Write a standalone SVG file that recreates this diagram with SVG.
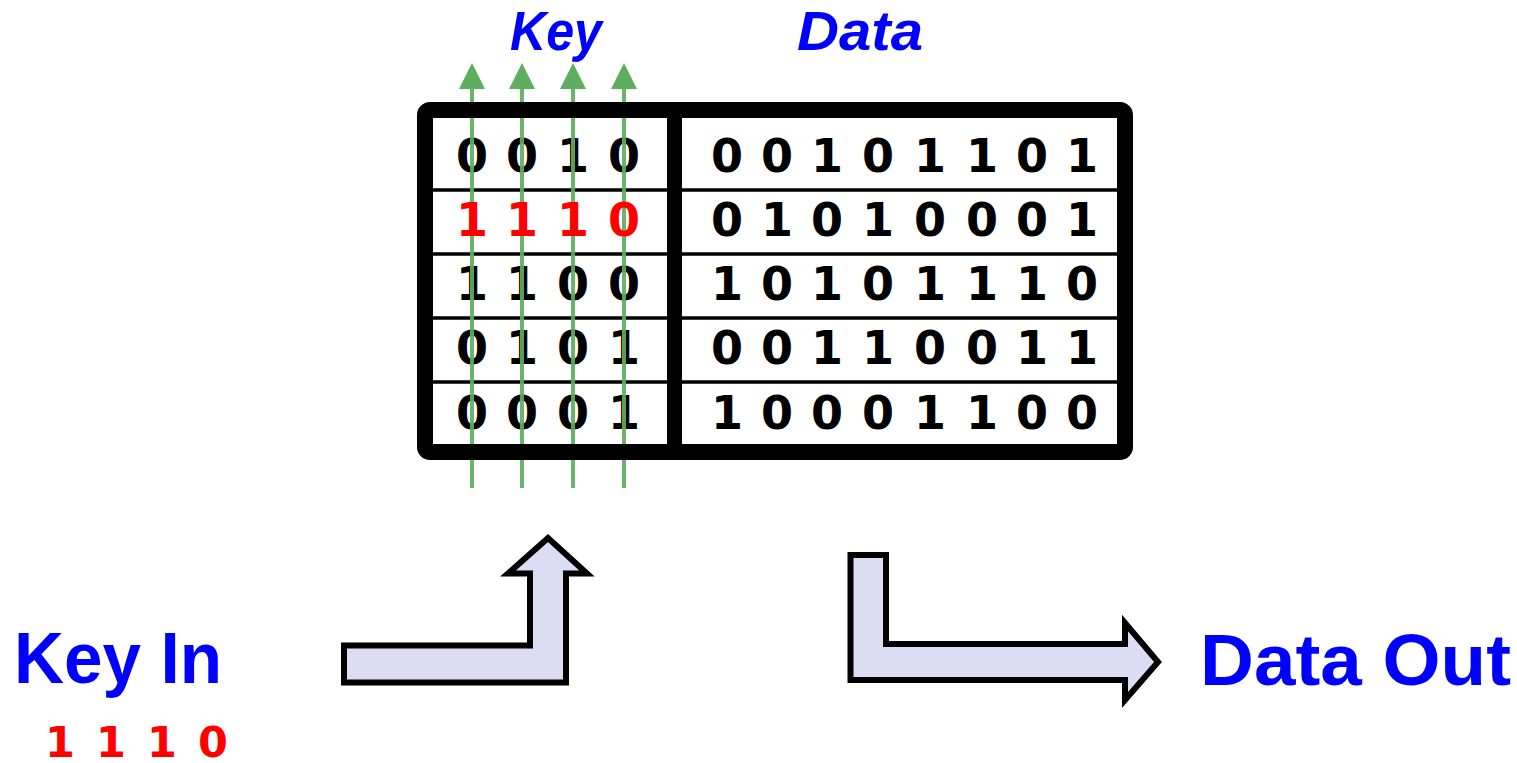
<svg xmlns="http://www.w3.org/2000/svg" width="1517" height="763" viewBox="0 0 1517 763">
<defs>
<style>
.d{font-family:"DejaVu Sans",sans-serif;font-weight:bold;font-size:46px;text-anchor:middle;fill:#000}
.r{fill:#ff0000}
.lbl{font-family:"Liberation Sans",Arial,sans-serif;font-weight:bold;fill:#0000ff}
.it{font-style:italic;font-size:56px}
.big{font-size:73px}
.g{stroke:#5fae5f;stroke-width:4;fill:none;opacity:0.92}
.gh{fill:#5fae5f}
.arw{fill:#dcdcf4;stroke:#000;stroke-width:6;stroke-linejoin:miter}
.row{stroke:#000;stroke-width:3.5}
</style>
</defs>
<rect width="1517" height="763" fill="#fff"/>

<g id="labels">
<text class="lbl it" x="510" y="50" textLength="92" lengthAdjust="spacingAndGlyphs">Key</text>
<text class="lbl it" x="797" y="50" textLength="126" lengthAdjust="spacingAndGlyphs">Data</text>
</g>

<g id="table">
<rect x="425" y="110" width="700" height="342" fill="#fff"/>
<g id="key-bits">
<text class="d" y="172"><tspan x="472">0</tspan><tspan x="522">0</tspan><tspan x="573">1</tspan><tspan x="624">0</tspan></text>
<text class="d" y="300"><tspan x="472">1</tspan><tspan x="522">1</tspan><tspan x="573">0</tspan><tspan x="624">0</tspan></text>
<text class="d" y="364"><tspan x="472">0</tspan><tspan x="522">1</tspan><tspan x="573">0</tspan><tspan x="624">1</tspan></text>
<text class="d" y="429"><tspan x="472">0</tspan><tspan x="522">0</tspan><tspan x="573">0</tspan><tspan x="624">1</tspan></text>
</g>
<g id="data-bits">
<text class="d" y="172"><tspan x="727">0</tspan><tspan x="777">0</tspan><tspan x="827">1</tspan><tspan x="878">0</tspan><tspan x="930">1</tspan><tspan x="982">1</tspan><tspan x="1032">0</tspan><tspan x="1082">1</tspan></text>
<text class="d" y="236"><tspan x="727">0</tspan><tspan x="777">1</tspan><tspan x="827">0</tspan><tspan x="878">1</tspan><tspan x="930">0</tspan><tspan x="982">0</tspan><tspan x="1032">0</tspan><tspan x="1082">1</tspan></text>
<text class="d" y="300"><tspan x="727">1</tspan><tspan x="777">0</tspan><tspan x="827">1</tspan><tspan x="878">0</tspan><tspan x="930">1</tspan><tspan x="982">1</tspan><tspan x="1032">1</tspan><tspan x="1082">0</tspan></text>
<text class="d" y="364"><tspan x="727">0</tspan><tspan x="777">0</tspan><tspan x="827">1</tspan><tspan x="878">1</tspan><tspan x="930">0</tspan><tspan x="982">0</tspan><tspan x="1032">1</tspan><tspan x="1082">1</tspan></text>
<text class="d" y="429"><tspan x="727">1</tspan><tspan x="777">0</tspan><tspan x="827">0</tspan><tspan x="878">0</tspan><tspan x="930">1</tspan><tspan x="982">1</tspan><tspan x="1032">0</tspan><tspan x="1082">0</tspan></text>
</g>
<g id="rows">
<line class="row" x1="433" y1="190" x2="1117" y2="190"/>
<line class="row" x1="433" y1="254" x2="1117" y2="254"/>
<line class="row" x1="433" y1="318" x2="1117" y2="318"/>
<line class="row" x1="433" y1="382" x2="1117" y2="382"/>
</g>
</g>

<g id="connectors">
<line class="g" x1="472" y1="488" x2="472" y2="86"/>
<line class="g" x1="522" y1="488" x2="522" y2="86"/>
<line class="g" x1="573" y1="488" x2="573" y2="86"/>
<line class="g" x1="624" y1="488" x2="624" y2="86"/>
<polygon class="gh" points="459,89 472,63 485,89"/>
<polygon class="gh" points="509,89 522,63 535,89"/>
<polygon class="gh" points="560,89 573,63 586,89"/>
<polygon class="gh" points="611,89 624,63 637,89"/>
</g>

<g id="selected-row">
<text class="d r" y="236"><tspan x="472">1</tspan><tspan x="522">1</tspan><tspan x="573">1</tspan><tspan x="624">0</tspan></text>
</g>

<g id="frame">
<rect x="425" y="110" width="700" height="342" rx="5" fill="none" stroke="#000" stroke-width="16"/>
<line x1="674.5" y1="110" x2="674.5" y2="452" stroke="#000" stroke-width="15"/>
</g>

<g id="key-in">
<text class="lbl big" x="14" y="683" textLength="208" lengthAdjust="spacingAndGlyphs">Key In</text>
<text class="d r" y="757" style="font-size:43px"><tspan x="60">1</tspan><tspan x="111">1</tspan><tspan x="162">1</tspan><tspan x="213">0</tspan></text>
</g>

<g id="arrow-in">
<polygon class="arw" points="344,645.5 530,645.5 530,573.5 508,573.5 548,538 587,573.5 566,573.5 566,682.5 344,682.5"/>
</g>

<g id="arrow-out">
<polygon class="arw" points="850.5,555 886,555 886,644 1125,644 1125,623 1158,662 1125,700 1125,680 850.5,680"/>
</g>

<g id="data-out">
<text class="lbl big" x="1200" y="685" textLength="311" lengthAdjust="spacingAndGlyphs" style="font-size:72px">Data Out</text>
</g>
</svg>
